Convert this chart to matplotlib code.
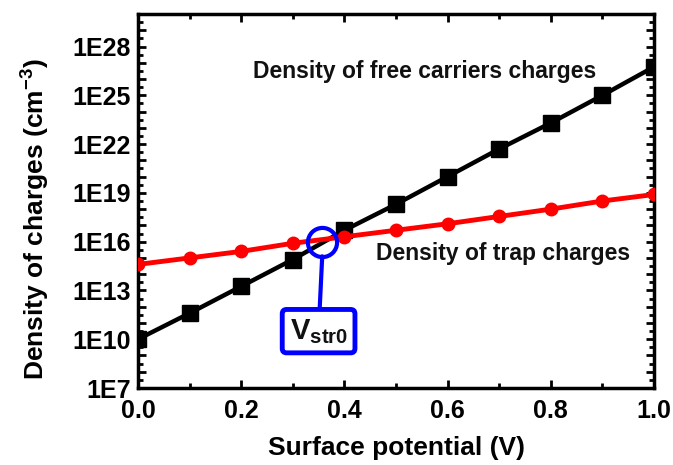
import numpy as np
import matplotlib
matplotlib.use("Agg")
import matplotlib.pyplot as plt
from matplotlib.ticker import FixedLocator, NullFormatter, FixedFormatter

plt.rcParams['font.family'] = ['Liberation Sans', 'DejaVu Sans']
plt.rcParams['mathtext.fontset'] = 'custom'
plt.rcParams['mathtext.rm'] = 'Liberation Sans:bold'
plt.rcParams['mathtext.bf'] = 'Liberation Sans:bold'
plt.rcParams['mathtext.it'] = 'Liberation Sans:bold'

# Data (log10 of densities)
surface_potential = [0.0, 0.1, 0.2, 0.3, 0.4, 0.5, 0.6, 0.7, 0.8, 0.9, 1.0]
log_free_carriers = [10.0, 11.6, 13.25, 14.9, 16.7, 18.3, 20.0, 21.7, 23.3, 25.0, 26.75]
log_trap_charges = [14.6, 15.0, 15.4, 15.9, 16.3, 16.7, 17.1, 17.55, 18.0, 18.5, 18.9]
ytick_exponents = [7, 10, 13, 16, 19, 22, 25, 28]
xtick_values = [0.0, 0.2, 0.4, 0.6, 0.8, 1.0]
vstr0_x = 0.357
vstr0_log = 16.0

free = [10 ** v for v in log_free_carriers]
trap = [10 ** v for v in log_trap_charges]

fig = plt.figure(figsize=(6.73, 4.65), dpi=100)
ax = fig.add_axes([138 / 673, 1 - 388 / 465, (654 - 138) / 673, (388 - 14) / 465])

ax.plot(surface_potential, free, color='black', lw=3.2, marker='s', ms=11, zorder=3)
ax.plot(surface_potential, trap, color='#ff0000', lw=3.5, marker='o', ms=9, zorder=3)

ax.set_yscale('log')
ax.set_xlim(0, 1.0)
ax.set_ylim(1e7, 1e30)

ax.yaxis.set_major_locator(FixedLocator([10.0 ** e for e in range(7, 31)]))
ax.yaxis.set_major_formatter(FixedFormatter(
    [('1E%d' % e if e in ytick_exponents else '') for e in range(7, 31)]))
ax.yaxis.set_minor_locator(FixedLocator([10.0 ** (e + 0.5) for e in range(7, 30)]))
ax.yaxis.set_minor_formatter(NullFormatter())

ax.set_xticks(xtick_values)
ax.set_xticklabels(['%.1f' % v for v in xtick_values])
ax.xaxis.set_minor_locator(FixedLocator([0.1, 0.3, 0.5, 0.7, 0.9]))

ax.tick_params(which='both', direction='in', top=True, right=True, width=2,
               labelsize=18)
ax.tick_params(which='major', length=6)
ax.tick_params(which='minor', length=3.5)
for lab in ax.get_xticklabels() + ax.get_yticklabels():
    lab.set_fontweight('bold')
ax.tick_params(axis='x', pad=8)
ax.tick_params(axis='y', pad=5)

for sp in ax.spines.values():
    sp.set_linewidth(2.5)

ax.set_xlabel('Surface potential (V)', fontsize=19, fontweight='bold', labelpad=9)
ax.set_ylabel(r'Density of charges (cm$^{\mathbf{-3}}$)', fontsize=19,
              fontweight='bold')
ax.yaxis.set_label_coords(-0.167, 0.452)

ax.text(0.222, 10 ** 26.45, 'Density of free carriers charges', fontsize=16.5,
        fontweight='bold', va='center', ha='left', color='#111111')
ax.text(0.462, 10 ** 15.28, 'Density of trap charges', fontsize=16.5,
        fontweight='bold', va='center', ha='left', color='#111111')

# V_str0 annotation
ax.plot([vstr0_x], [10 ** vstr0_log], marker='o', ms=21, mfc='none',
        mec='#0000ff', mew=3, zorder=5)
ax.annotate(r'$\mathbf{V_{str0}}$', xy=(vstr0_x, 10 ** (vstr0_log - 0.9)),
            xytext=(0.35, 0.152), textcoords='axes fraction',
            ha='center', va='center', fontsize=21, color='#111111',
            bbox=dict(boxstyle='round,pad=0.25,rounding_size=0.15', fc='white',
                      ec='#0000ff', lw=3.5),
            arrowprops=dict(arrowstyle='-', color='#0000ff', lw=3,
                            shrinkA=0, shrinkB=0),
            zorder=6)

fig.savefig('out.png', dpi=100)
